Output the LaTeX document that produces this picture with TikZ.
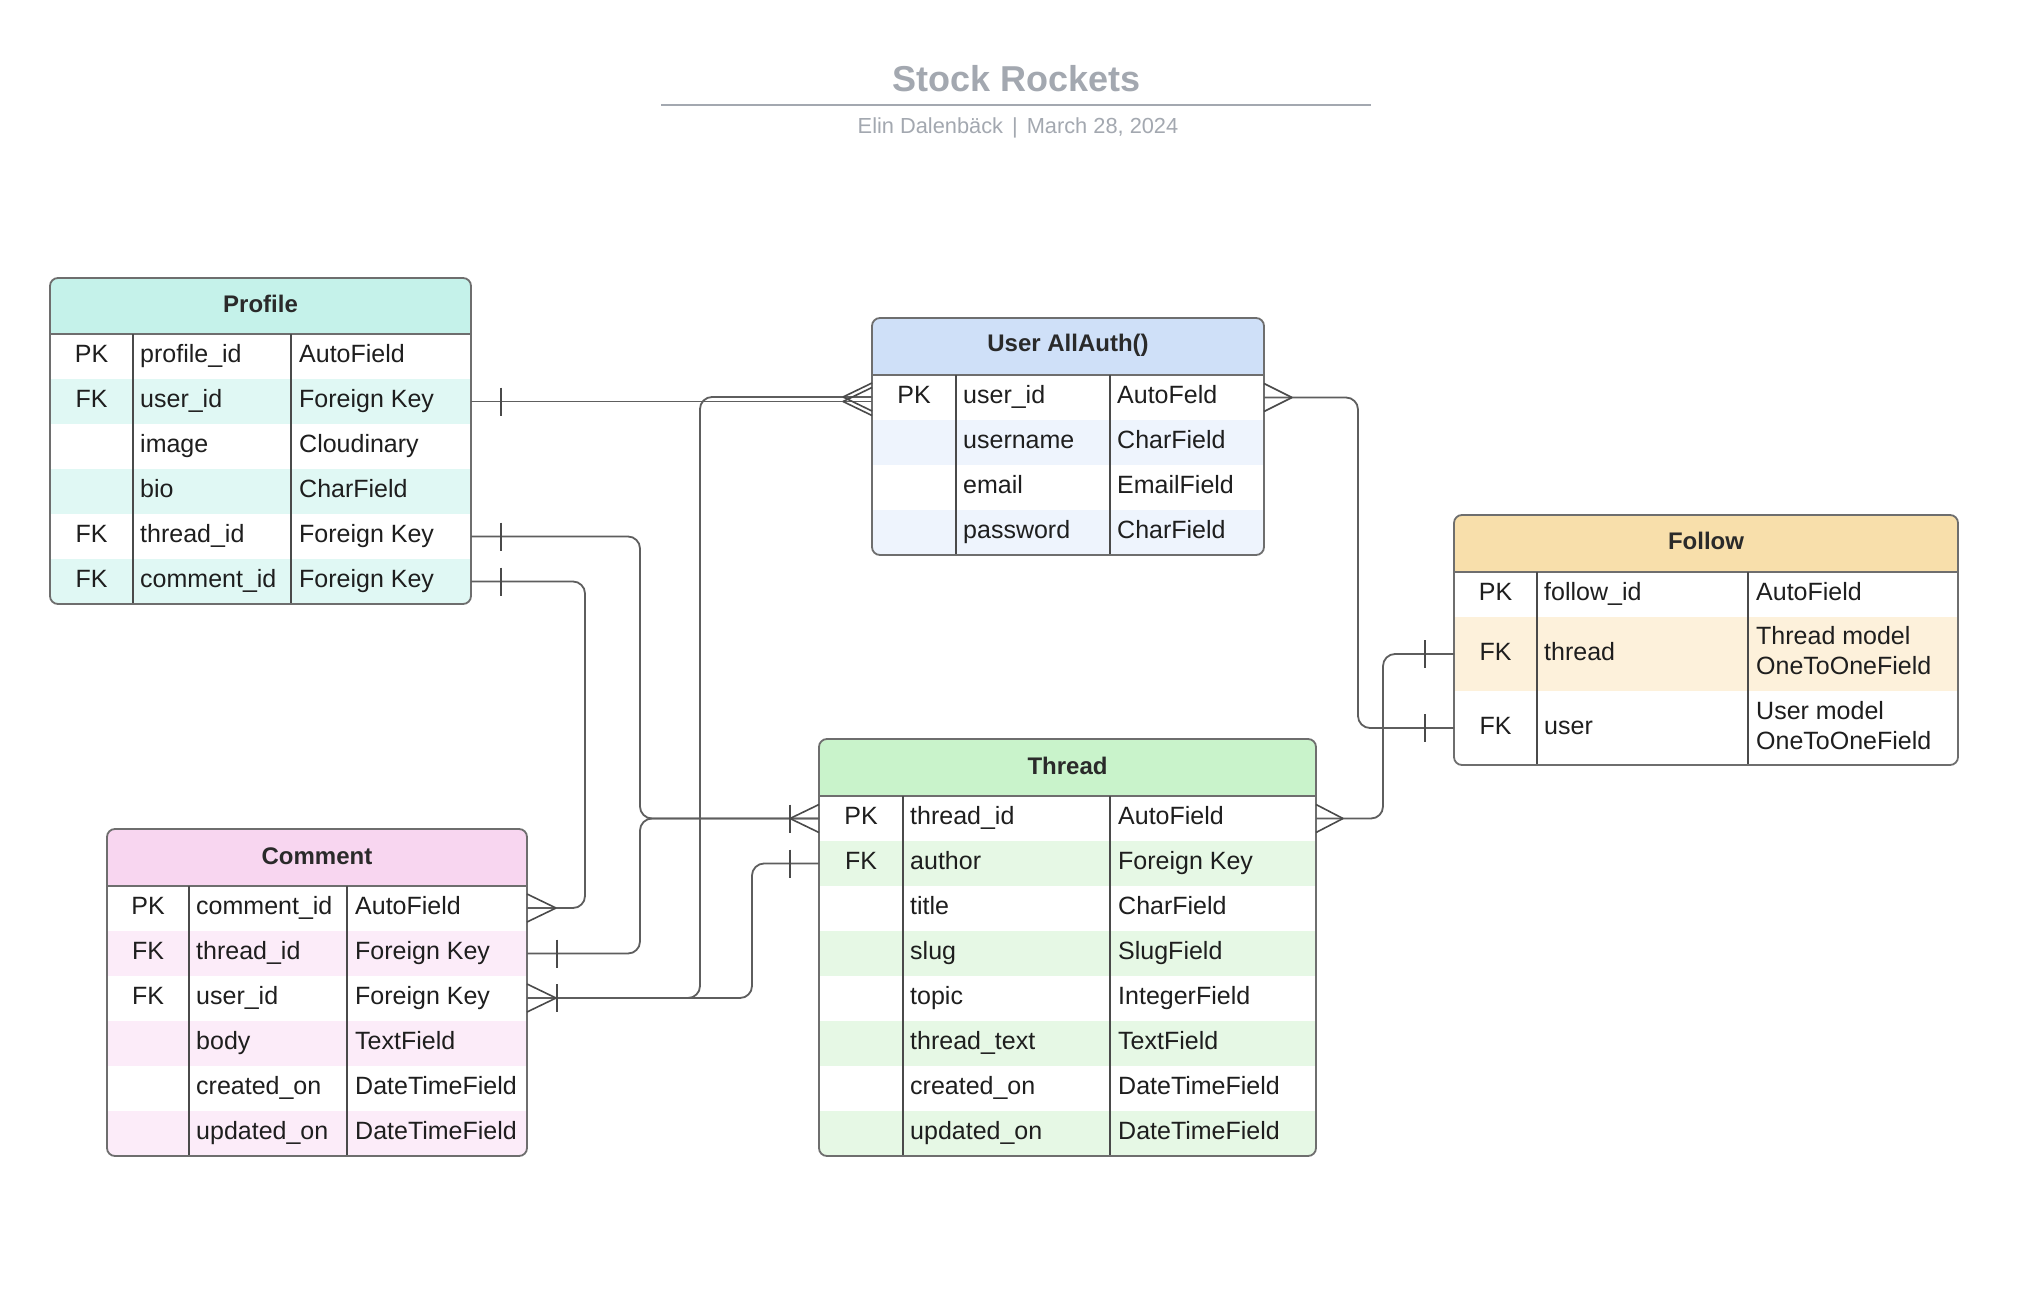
\documentclass[tikz,border=0pt]{standalone}
\usepackage{fontspec}
\setmainfont{Liberation Sans}
\definecolor{txt}{HTML}{1E1E1E}
\definecolor{htxt}{HTML}{2A2A2A}
\definecolor{bord}{HTML}{6E6E6E}
\definecolor{divc}{HTML}{4A4A4A}
\definecolor{lin}{HTML}{5E5E5E}
\definecolor{ttl}{HTML}{A3A8B0}
\definecolor{phdr}{HTML}{C5F2EA}\definecolor{palt}{HTML}{E0F8F4}
\definecolor{uhdr}{HTML}{CFE0F8}\definecolor{ualt}{HTML}{EEF4FD}
\definecolor{fhdr}{HTML}{F8DFAB}\definecolor{falt}{HTML}{FDF1DB}
\definecolor{chdr}{HTML}{F8D6F0}\definecolor{calt}{HTML}{FCECF9}
\definecolor{thdr}{HTML}{C9F3CB}\definecolor{talt}{HTML}{E6F8E5}
\tikzset{
  cell/.style={inner sep=0pt, font=\fontsize{25}{30}\selectfont, text=txt, text height=17.5pt, text depth=5pt},
  cellml/.style={inner sep=0pt, font=\fontsize{25}{30}\selectfont, text=txt, align=left},
  hdrtxt/.style={inner sep=0pt, font=\bfseries\fontsize{24}{29}\selectfont, text=htxt},
  tbox/.style={draw=bord, line width=1.8pt, rounded corners=8pt, inner sep=0pt, fill=none},
  hline/.style={draw=bord, line width=1.6pt},
  divider/.style={draw=divc, line width=1.4pt},
  conn/.style={draw=lin, line width=1.8pt, rounded corners=12pt},
  endmk/.style={draw=divc, line width=1.6pt},
}
\newcommand\crow[3]{\draw[endmk] (#2,#3) -- (#1,#3-14) (#2,#3) -- (#1,#3+14);}
\newcommand\onebar[2]{\draw[endmk] (#1,#2-14) -- (#1,#2+14);}
\newcommand\trow[8]{%
  \node[cell, anchor=center] (#1k) at (#3,#2) {#6};
  \node[cell, anchor=west] (#1f) at (#4,#2) {#7};
  \node[cell, anchor=west] (#1t) at (#5,#2) {#8};}
\begin{document}
\begin{tikzpicture}[x=1pt, y=-1pt]
\useasboundingbox[fill=white] (0,0) rectangle (2024,1316);

% ---------- title ----------
\node[inner sep=0pt, font=\bfseries\fontsize{36}{40}\selectfont, text=ttl] (title) at (1017,79) {Stock Rockets};
\draw[draw=ttl, line width=2.6pt] (661,105) -- (1371,105);
\node[inner sep=0pt, font=\fontsize{21.8}{25}\selectfont, text=ttl] (subtitle) at (1018,127.5) {Elin Dalenbäck\hspace{9pt}|\hspace{9pt}March 28, 2024};

% ---------- Profile ----------
\begin{scope}
\clip[rounded corners=8pt] (50,278) rectangle (471,604);
\fill[phdr] (50,278) rectangle (471,334);
\fill[palt] (50,379) rectangle (471,424);
\fill[palt] (50,469) rectangle (471,514);
\fill[palt] (50,559) rectangle (471,604);
\end{scope}
\draw[hline] (50,334) -- (471,334);
\draw[divider] (133,334) -- (133,604) (291,334) -- (291,604);
\node[tbox, minimum width=421pt, minimum height=326pt] (profile) at (260.5,441) {};
\node[hdrtxt] (profileT) at (260.5,304) {Profile};
\trow{p1}{356.5}{91.5}{140}{299}{PK}{profile\_id}{AutoField}
\trow{p2}{401.5}{91.5}{140}{299}{FK}{user\_id}{Foreign Key}
\trow{p3}{446.5}{91.5}{140}{299}{}{image}{Cloudinary}
\trow{p4}{491.5}{91.5}{140}{299}{}{bio}{CharField}
\trow{p5}{536.5}{91.5}{140}{299}{FK}{thread\_id}{Foreign Key}
\trow{p6}{581.5}{91.5}{140}{299}{FK}{comment\_id}{Foreign Key}

% ---------- User ----------
\begin{scope}
\clip[rounded corners=8pt] (872,318) rectangle (1264,555);
\fill[uhdr] (872,318) rectangle (1264,375);
\fill[ualt] (872,420) rectangle (1264,465);
\fill[ualt] (872,510) rectangle (1264,555);
\end{scope}
\draw[hline] (872,375) -- (1264,375);
\draw[divider] (956,375) -- (956,555) (1110,375) -- (1110,555);
\node[tbox, minimum width=392pt, minimum height=237pt] (user) at (1068,436.5) {};
\node[hdrtxt] (userT) at (1068,345.5) {User AllAuth()};
\trow{u1}{397.5}{914}{963}{1117}{PK}{user\_id}{AutoFeld}
\trow{u2}{442.5}{914}{963}{1117}{}{username}{CharField}
\trow{u3}{487.5}{914}{963}{1117}{}{email}{EmailField}
\trow{u4}{532.5}{914}{963}{1117}{}{password}{CharField}

% ---------- Follow ----------
\begin{scope}
\clip[rounded corners=8pt] (1454,515) rectangle (1958,765);
\fill[fhdr] (1454,515) rectangle (1958,572);
\fill[falt] (1454,617) rectangle (1958,691);
\end{scope}
\draw[hline] (1454,572) -- (1958,572);
\draw[divider] (1537,572) -- (1537,765) (1748,572) -- (1748,765);
\node[tbox, minimum width=504pt, minimum height=250pt] (follow) at (1706,640) {};
\node[hdrtxt] (followT) at (1706,541) {Follow};
\node[cell, anchor=center] (f1k) at (1495.5,594.5) {PK};
\node[cell, anchor=west] (f1f) at (1544,594.5) {follow\_id};
\node[cell, anchor=west] (f1t) at (1756,594.5) {AutoField};
\node[cell, anchor=center] (f2k) at (1495.5,654) {FK};
\node[cell, anchor=west] (f2f) at (1544,654) {thread};
\node[cellml, anchor=west] (f2t) at (1756,650.5) {Thread model\\OneToOneField};
\node[cell, anchor=center] (f3k) at (1495.5,728) {FK};
\node[cell, anchor=west] (f3f) at (1544,728) {user};
\node[cellml, anchor=west] (f3t) at (1756,725.5) {User model\\OneToOneField};

% ---------- Comment ----------
\begin{scope}
\clip[rounded corners=8pt] (107,829) rectangle (527,1156);
\fill[chdr] (107,829) rectangle (527,886);
\fill[calt] (107,931) rectangle (527,976);
\fill[calt] (107,1021) rectangle (527,1066);
\fill[calt] (107,1111) rectangle (527,1156);
\end{scope}
\draw[hline] (107,886) -- (527,886);
\draw[divider] (189,886) -- (189,1156) (347,886) -- (347,1156);
\node[tbox, minimum width=420pt, minimum height=327pt] (comment) at (317,992.5) {};
\node[hdrtxt] (commentT) at (317,856) {Comment};
\trow{c1}{908.5}{148}{196}{355}{PK}{comment\_id}{AutoField}
\trow{c2}{953.5}{148}{196}{355}{FK}{thread\_id}{Foreign Key}
\trow{c3}{998.5}{148}{196}{355}{FK}{user\_id}{Foreign Key}
\trow{c4}{1043.5}{148}{196}{355}{}{body}{TextField}
\trow{c5}{1088.5}{148}{196}{355}{}{created\_on}{DateTimeField}
\trow{c6}{1133.5}{148}{196}{355}{}{updated\_on}{DateTimeField}

% ---------- Thread ----------
\begin{scope}
\clip[rounded corners=8pt] (819,739) rectangle (1316,1156);
\fill[thdr] (819,739) rectangle (1316,796);
\fill[talt] (819,841) rectangle (1316,886);
\fill[talt] (819,931) rectangle (1316,976);
\fill[talt] (819,1021) rectangle (1316,1066);
\fill[talt] (819,1111) rectangle (1316,1156);
\end{scope}
\draw[hline] (819,796) -- (1316,796);
\draw[divider] (903,796) -- (903,1156) (1110,796) -- (1110,1156);
\node[tbox, minimum width=497pt, minimum height=417pt] (thread) at (1067.5,947.5) {};
\node[hdrtxt] (threadT) at (1067.5,765.5) {Thread};
\trow{t1}{818.5}{861}{910}{1118}{PK}{thread\_id}{AutoField}
\trow{t2}{863.5}{861}{910}{1118}{FK}{author}{Foreign Key}
\trow{t3}{908.5}{861}{910}{1118}{}{title}{CharField}
\trow{t4}{953.5}{861}{910}{1118}{}{slug}{SlugField}
\trow{t5}{998.5}{861}{910}{1118}{}{topic}{IntegerField}
\trow{t6}{1043.5}{861}{910}{1118}{}{thread\_text}{TextField}
\trow{t7}{1088.5}{861}{910}{1118}{}{created\_on}{DateTimeField}
\trow{t8}{1133.5}{861}{910}{1118}{}{updated\_on}{DateTimeField}

% ---------- connector end points ----------
\coordinate (pU) at (471,401.5);
\coordinate (pT) at (471,536.5);
\coordinate (pC) at (471,581.5);
\coordinate (uL1) at (872,401.5);
\coordinate (uL2) at (872,397);
\coordinate (uR) at (1264,397.5);
\coordinate (cC) at (527,908);
\coordinate (cT) at (527,953.5);
\coordinate (cU) at (527,998);
\coordinate (tL1) at (819,818.5);
\coordinate (tL2) at (819,863.5);
\coordinate (tR) at (1316,818.5);
\coordinate (fT) at (1454,654);
\coordinate (fU) at (1454,728);

% ---------- connectors ----------
\draw[conn] (pU) -- (uL1);
\draw[conn] (pT) -- (640,536.5) -- (640,818.5) -- (tL1);
\draw[conn] (pC) -- (585,581.5) -- (585,908) -- (cC);
\draw[conn] (cT) -- (640,953.5) -- (640,818.5) -- (tL1);
\draw[conn] (cU) -- (700,998) -- (700,397) -- (uL2);
\draw[conn] (cU) -- (752,998) -- (752,863.5) -- (tL2);
\draw[conn] (uR) -- (1358,397.5) -- (1358,728) -- (fU);
\draw[conn] (tR) -- (1383,818.5) -- (1383,654) -- (fT);

% ---------- end marks ----------
\onebar{501}{401.5}
\onebar{501}{536.5}
\onebar{501}{581.5}
\crow{872}{843}{401.5}
\crow{872}{843}{397}
\onebar{790}{818.5}
\crow{819}{790}{818.5}
\onebar{790}{863.5}
\crow{527}{556}{908}
\onebar{557}{953.5}
\crow{527}{556}{998}
\onebar{557}{998}
\crow{1264}{1292}{397.5}
\crow{1316}{1343}{818.5}
\onebar{1425}{654}
\onebar{1425}{728}
\end{tikzpicture}
\end{document}
